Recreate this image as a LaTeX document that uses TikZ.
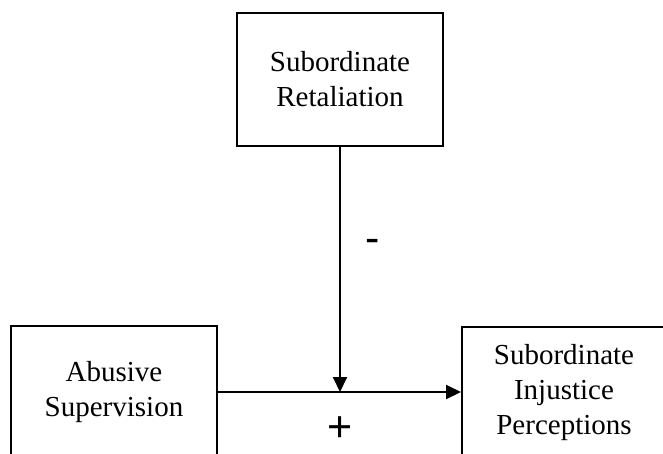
\documentclass[tikz,border=0pt]{standalone}
\usepackage{fontspec}
\setmainfont{Liberation Serif}
\newfontfamily\signfont{Liberation Sans}
\usetikzlibrary{arrows.meta}

\begin{document}
\begin{tikzpicture}[x=1pt,y=-1pt,
    box/.style={draw,line width=2pt,minimum width=206pt,minimum height=133pt,
        inner sep=0pt,align=center,font=\fontsize{29}{35}\selectfont},
    pfeil/.style={line width=2pt,-{Triangle[length=15pt,width=14pt]}},
    sign/.style={font=\signfont\fontsize{43}{43}\selectfont}]

\clip (0,0) rectangle (663,453);

% Kaesten
\node[box] (retal) at (340,79) {Subordinate\\Retaliation};
\node[box] (abuse) at (114,392) {Abusive\\Supervision};
\node[box,minimum width=204pt] (injust) at (564,393) {Subordinate\\Injustice\\Perceptions};

\coordinate (meet) at (retal.south |- abuse.east);

% Pfeile
\draw[pfeil] (abuse.east) -- (injust.west |- abuse.east);
\draw[pfeil] (retal.south) -- (meet);

\node[sign] (minus) at (373,246) {-};
\node[sign] (plus) at (340,429) {+};

\end{tikzpicture}
\end{document}
